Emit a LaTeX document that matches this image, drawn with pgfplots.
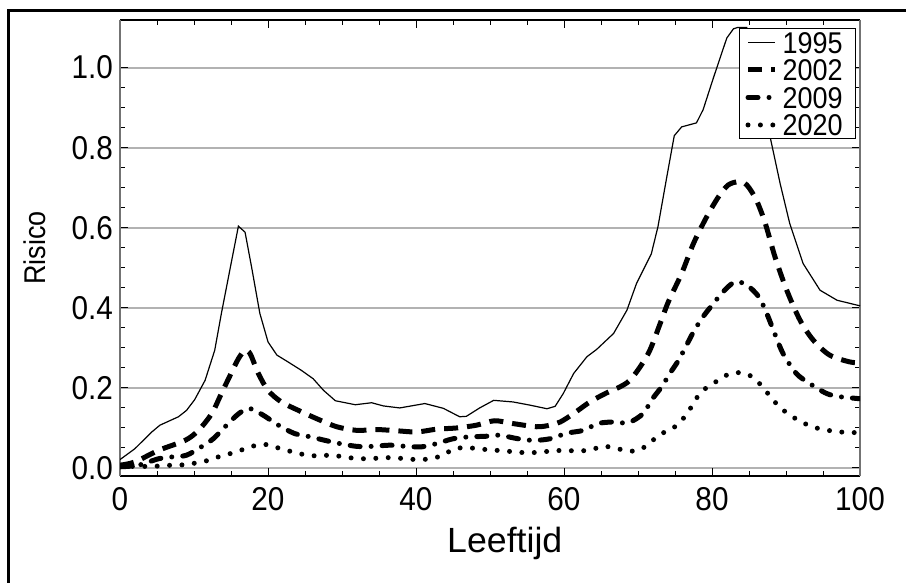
\documentclass[border=0pt]{standalone}
\usepackage{fontspec}
\setmainfont{Liberation Sans}[FakeStretch=0.9]
\newfontfamily\widefont{Liberation Sans}[FakeStretch=1.02]
\newfontfamily\legfont{Liberation Sans}[FakeStretch=0.9]
\newcommand{\leg}[1]{\makebox[33.5bp][l]{\legfont\fontsize{15bp}{16bp}\selectfont #1}}
\usepackage{pgfplots}
\pgfplotsset{compat=1.18}
\begin{document}
\begin{tikzpicture}
\begin{axis}[
  at={(0,0)}, anchor=south west,
  scale only axis, width=370bp, height=228bp,
  xmin=0, xmax=100, ymin=-0.02, ymax=1.119,
  xtick={0,20,40,60,80,100},
  ytick={0,0.2,0.4,0.6,0.8,1.0},
  minor x tick num=3, minor y tick num=3,
  major tick length=4bp, minor tick length=2.5bp,
  tick style={black, line width=0.5bp},
  tick align=inside,
  ymajorgrids, major grid style={gray!60, line width=0.9bp},
  /pgf/number format/assume math mode=true,
  yticklabel style={/pgf/number format/fixed, /pgf/number format/fixed zerofill, /pgf/number format/precision=1},
  xticklabel style={yshift=-2bp},
  ticklabel style={font=\fontsize{16.5bp}{19bp}\selectfont},
  xlabel={Leeftijd}, ylabel={Risico},
  xlabel style={at={(axis description cs:0.52,-0.168)}, anchor=base, font=\widefont\fontsize{17.5bp}{20bp}\selectfont},
  ylabel style={at={(axis description cs:-0.1,0.5)}, anchor=base, font=\fontsize{15bp}{18bp}\selectfont},
  separate axis lines,
  x axis line style={black, line width=0.7bp},
  y axis line style={black!55, line width=1bp},
  legend style={at={(axis description cs:0.9946,0.9825)}, anchor=north east,
    draw=black, line width=0.5bp,
    inner xsep=3bp, inner ysep=1.5bp, row sep=2.75bp, column sep=2.5bp,
    nodes={inner sep=0pt, text height=11bp, text depth=0bp}},
  legend cell align=left,
  legend image code/.code={\draw[#1] (0bp,0bp) -- (13.5bp,0bp);},
]
\addplot[black, line width=0.6bp] coordinates {
(0,0.021)(2,0.048)(4.3,0.09)(5.4,0.107)(7.9,0.128)(9,0.144)(10.1,0.171)(11.5,0.219)(12.8,0.294)(13.7,0.386)(14.9,0.50)(16,0.604)(16.9,0.589)(17.8,0.50)(18.9,0.386)(20,0.315)(21.2,0.282)(22.7,0.265)(24.5,0.244)(26.1,0.223)(27.5,0.194)(29.1,0.168)(31.8,0.158)(34,0.163)(35.6,0.155)(37.8,0.150)(41.2,0.161)(43.7,0.149)(45.9,0.128)(46.8,0.129)(48.6,0.150)(50.5,0.169)(53.1,0.165)(55.4,0.157)(57.7,0.148)(58.8,0.154)(59.9,0.186)(61.3,0.236)(63.1,0.278)(64.4,0.296)(66.7,0.336)(68.5,0.394)(69.8,0.461)(71.8,0.535)(72.7,0.603)(73.9,0.728)(74.9,0.83)(75.9,0.852)(77.9,0.862)(78.8,0.895)(80.2,0.975)(82,1.074)(82.9,1.097)(83.4,1.10)(84.7,1.10)(86.3,0.96)(87.9,0.823)(89.2,0.711)(90.5,0.611)(92.3,0.511)(94.6,0.444)(96.9,0.419)(100,0.405)
};
\addlegendentry{\leg{1995}}
\addplot[black, line width=2.5bp, dash pattern=on 7bp off 4.5bp, smooth] coordinates {
(0,0.007)(2,0.015)(5.2,0.044)(8.8,0.069)(10.6,0.094)(12.4,0.136)(13.7,0.186)(14.9,0.232)(16,0.273)(16.9,0.294)(17.6,0.285)(18.7,0.236)(20,0.194)(21.8,0.165)(24.1,0.144)(26.6,0.123)(29.3,0.103)(32,0.094)(34.7,0.096)(37.4,0.093)(40.1,0.090)(42.8,0.097)(45.5,0.100)(48.2,0.107)(50.6,0.118)(53.1,0.111)(56.3,0.103)(58.1,0.107)(59.5,0.115)(61.3,0.136)(63.5,0.165)(65.8,0.188)(67.6,0.203)(68.9,0.219)(70.3,0.253)(71.6,0.294)(73,0.361)(74.1,0.415)(75.9,0.486)(77.5,0.561)(79.3,0.628)(80.9,0.678)(82.2,0.707)(83.6,0.715)(84.7,0.707)(86,0.669)(87.2,0.611)(88.5,0.528)(90.1,0.444)(91.9,0.369)(93.7,0.319)(95.9,0.282)(98.6,0.265)(100,0.263)
};
\addlegendentry{\leg{2002}}
\addplot[black, line width=2.5bp, line cap=round, dash pattern=on 5bp off 5.5bp on 0bp off 5.5bp, smooth] coordinates {
(0,0.003)(2.5,0.007)(5.2,0.023)(7.2,0.028)(9,0.032)(11,0.053)(12.6,0.073)(14.2,0.103)(15.8,0.132)(17.1,0.148)(18,0.146)(19.6,0.129)(21.4,0.107)(23.6,0.086)(25.7,0.078)(27.7,0.069)(29.7,0.061)(32,0.054)(34,0.054)(36.5,0.057)(38.7,0.054)(40.8,0.053)(42.8,0.061)(45,0.073)(47.3,0.078)(49.3,0.079)(51.2,0.082)(53.8,0.073)(55.9,0.069)(58.1,0.073)(60.4,0.087)(62.6,0.094)(64.6,0.111)(66.7,0.115)(68.7,0.113)(70.7,0.136)(71.8,0.169)(73.2,0.203)(74.3,0.236)(75.6,0.273)(77.5,0.34)(78.8,0.378)(80.2,0.411)(81.5,0.44)(83.1,0.465)(84.7,0.457)(86.3,0.428)(87.4,0.386)(88.3,0.344)(89.6,0.286)(91.4,0.236)(93.2,0.211)(95.5,0.186)(97.3,0.178)(100,0.173)
};
\addlegendentry{\leg{2009}}
\addplot[black, line width=2.5bp, line cap=round, dash pattern=on 0bp off 6.2bp, smooth] coordinates {
(0,0.005)(1.6,0.004)(3.6,0.004)(5.4,0.005)(7,0.007)(8.6,0.008)(10.4,0.013)(11.9,0.019)(13.5,0.029)(15.3,0.038)(16.9,0.048)(18.5,0.057)(20.1,0.058)(21.7,0.048)(23.4,0.04)(25,0.033)(26.8,0.030)(28.4,0.032)(30.2,0.028)(31.8,0.024)(33.6,0.023)(35.1,0.025)(36.9,0.026)(38.5,0.023)(40.3,0.021)(41.9,0.023)(43.7,0.032)(45,0.047)(46.7,0.051)(48.4,0.048)(50.1,0.045)(51.8,0.043)(53.4,0.04)(55.2,0.038)(57,0.04)(58.6,0.043)(60.4,0.044)(61.9,0.042)(63.7,0.046)(65.3,0.054)(66.9,0.05)(68.7,0.042)(70.3,0.046)(71.6,0.063)(73,0.084)(74.6,0.098)(75.7,0.115)(76.8,0.14)(77.7,0.169)(78.8,0.194)(80.2,0.211)(81.5,0.228)(83.1,0.238)(84.7,0.235)(86,0.219)(87.2,0.194)(88.3,0.169)(89.4,0.148)(90.8,0.129)(92.3,0.113)(93.9,0.101)(95.7,0.094)(97.3,0.09)(100,0.088)
};
\addlegendentry{\leg{2020}}
\end{axis}
\draw[black, line width=1.5bp] (-55.5bp,-53.5bp) -- (-55.5bp,232.5bp) -- (393bp,232.5bp);
\pgfresetboundingbox
\useasboundingbox (-60bp,-53.5bp) rectangle (393bp,238bp);
\end{tikzpicture}
\end{document}
